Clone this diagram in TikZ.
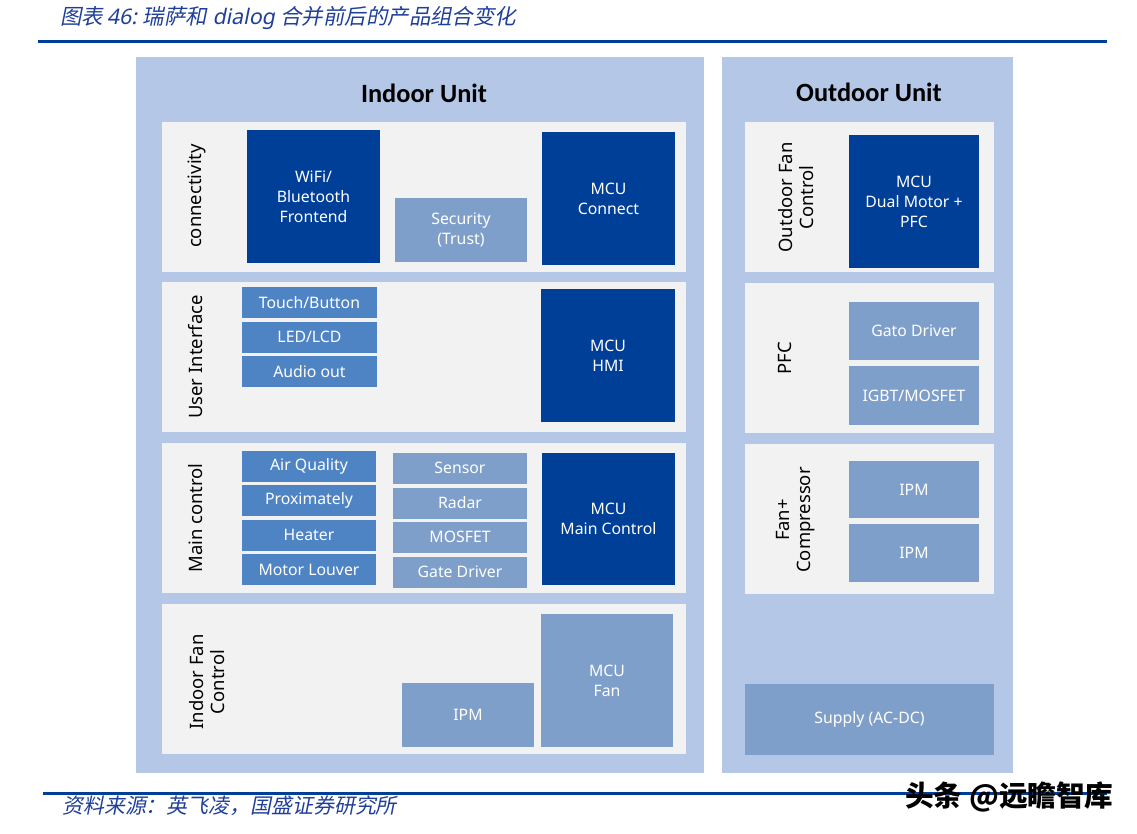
\documentclass[tikz,border=0pt]{standalone}
\usepackage{fontspec}
\setmainfont{Noto Sans}
\newfontfamily\headfont{Carlito}
\newfontfamily\slantfont[FakeSlant=0.2]{Noto Sans}
\newfontfamily\cjkslant[FakeSlant=0.2]{Noto Sans CJK SC}
\newfontfamily\cjkplain{Noto Sans CJK SC}
\definecolor{unitblue}{HTML}{B4C7E7}
\definecolor{panelgray}{HTML}{F2F2F2}
\definecolor{chipdark}{HTML}{003F98}
\definecolor{chipmid}{HTML}{4F84C4}
\definecolor{chiplight}{HTML}{7F9FCB}
\definecolor{captionblue}{HTML}{1F3F99}

\begin{document}
\begin{tikzpicture}[x=0.02cm, y=-0.02cm]
	\tikzstyle{unit}=[rectangle, fill=unitblue, inner sep=0pt]
	\tikzstyle{panel}=[rectangle, fill=panelgray, inner sep=0pt, minimum height=3cm]
	\tikzstyle{chip}=[rectangle, inner sep=0pt, text=white, align=center,
	font=\fontsize{9}{11.4}\selectfont]
	\tikzstyle{darkchip}=[chip, fill=chipdark]
	\tikzstyle{midchip}=[chip, fill=chipmid, minimum height=0.62cm]
	\tikzstyle{lightchip}=[chip, fill=chiplight]
	\tikzstyle{sidelabel}=[rotate=90, align=center, inner sep=0pt,
	font=\fontsize{10.5}{12}\selectfont]
	\tikzstyle{unitlabel}=[font=\headfont\bfseries\fontsize{15}{18}\selectfont]
	\tikzstyle{caption}=[anchor=west, inner sep=0pt, text=captionblue]

	\useasboundingbox (0,0) rectangle (1137,833);

	% caption and rules
	\node[caption, font=\fontsize{12.2}{14}\selectfont] at (60,18) (title)
	{{\cjkslant 图表}\,{\slantfont 46:}\ {\cjkslant 瑞萨和}\ {\slantfont dialog}\ {\cjkslant 合并前后的产品组合变化}};
	\draw[chipdark, line width=1.7pt] (38,41) -- (1107,41);
	\draw[chipdark, line width=1.7pt] (43,793) -- (1107,793);
	\node[caption, font=\cjkslant\fontsize{11.9}{14}\selectfont] at (62,806) (source)
	{资料来源：英飞凌，国盛证券研究所};
	\node[anchor=west, inner sep=0pt, font=\cjkplain\bfseries\fontsize{16.3}{18}\selectfont] at (905,797) (mark)
	{头条 @远瞻智库};

	% units
	\node[unit, minimum width=11.36cm, minimum height=14.32cm] at (420,415) (indoor) {};
	\node[unit, minimum width=5.82cm, minimum height=14.32cm] at (867.5,415) (outdoor) {};
	\node[unitlabel] at (424,93) (indoorlabel) {Indoor Unit};
	\node[unitlabel] at (869,92) (outdoorlabel) {Outdoor Unit};

	% indoor panels
	\node[panel, minimum width=10.48cm] at (424,197) (conn) {};
	\node[panel, minimum width=10.48cm] at (424,357) (ui) {};
	\node[panel, minimum width=10.48cm] at (424,518) (mainctl) {};
	\node[panel, minimum width=10.48cm] at (424,679) (infan) {};
	\node[sidelabel] at (197,196) (connlabel) {connectivity};
	\node[sidelabel] at (196,357) (uilabel) {User Interface};
	\node[sidelabel] at (196,518) (mainlabel) {Main control};
	\node[sidelabel] at (207,682) (infanlabel) {Indoor Fan\\Control};

	% connectivity
	\node[darkchip, minimum width=2.66cm, minimum height=2.66cm] at (313.5,196.5) (wifi) {WiFi/\\Bluetooth\\Frontend};
	\node[lightchip, minimum width=2.64cm, minimum height=1.28cm] at (461,230) (security) {Security\\(Trust)};
	\node[darkchip, minimum width=2.66cm, minimum height=2.66cm] at (608.5,198.5) (mcuconn) {MCU\\Connect};

	% user interface
	\node[midchip, minimum width=2.7cm] at (309.5,302.5) (touch) {Touch/Button};
	\node[midchip, minimum width=2.7cm] at (309.5,337) (led) {LED/LCD};
	\node[midchip, minimum width=2.7cm] at (309.5,371.5) (audio) {Audio out};
	\node[darkchip, minimum width=2.68cm, minimum height=2.66cm] at (608,355.5) (mcuhmi) {MCU\\HMI};

	% main control
	\node[midchip, minimum width=2.68cm] at (309,466) (air) {Air Quality};
	\node[midchip, minimum width=2.68cm] at (309,500.5) (prox) {Proximately};
	\node[midchip, minimum width=2.68cm] at (309,535) (heater) {Heater};
	\node[midchip, minimum width=2.68cm] at (309,569.5) (louver) {Motor Louver};
	\node[lightchip, minimum width=2.68cm, minimum height=0.62cm] at (460,468) (sensor) {Sensor};
	\node[lightchip, minimum width=2.68cm, minimum height=0.62cm] at (460,503) (radar) {Radar};
	\node[lightchip, minimum width=2.68cm, minimum height=0.62cm] at (460,537) (mosfet) {MOSFET};
	\node[lightchip, minimum width=2.68cm, minimum height=0.62cm] at (460,572) (gatedrv) {Gate Driver};
	\node[darkchip, minimum width=2.66cm, minimum height=2.64cm] at (608.5,519) (mcumain) {MCU\\Main Control};

	% indoor fan
	\node[lightchip, minimum width=2.64cm, minimum height=1.28cm] at (468,715) (inipm) {IPM};
	\node[lightchip, minimum width=2.64cm, minimum height=2.66cm] at (607,680.5) (mcufan) {MCU\\Fan};

	% outdoor panels
	\node[panel, minimum width=4.98cm] at (869.5,197) (outfan) {};
	\node[panel, minimum width=4.98cm] at (869.5,358) (pfc) {};
	\node[panel, minimum width=4.98cm] at (869.5,519) (comp) {};
	\node[sidelabel] at (796,197.5) (outfanlabel) {Outdoor Fan\\Control};
	\node[sidelabel] at (785,358) (pfclabel) {PFC};
	\node[sidelabel] at (796,520) (complabel) {Fan+\\Compressor};

	\node[darkchip, minimum width=2.6cm, minimum height=2.66cm] at (914,201.5) (mcudual) {MCU\\Dual Motor +\\PFC};
	\node[lightchip, minimum width=2.6cm, minimum height=1.16cm] at (914,331) (gato) {Gato Driver};
	\node[lightchip, minimum width=2.6cm, minimum height=1.18cm] at (914,395.5) (igbt) {IGBT/MOSFET};
	\node[lightchip, minimum width=2.6cm, minimum height=1.14cm] at (914,489.5) (outipma) {IPM};
	\node[lightchip, minimum width=2.6cm, minimum height=1.16cm] at (914,553) (outipmb) {IPM};
	\node[lightchip, minimum width=4.98cm, minimum height=1.42cm] at (869.5,719.5) (supply) {Supply (AC-DC)};
\end{tikzpicture}
\end{document}
